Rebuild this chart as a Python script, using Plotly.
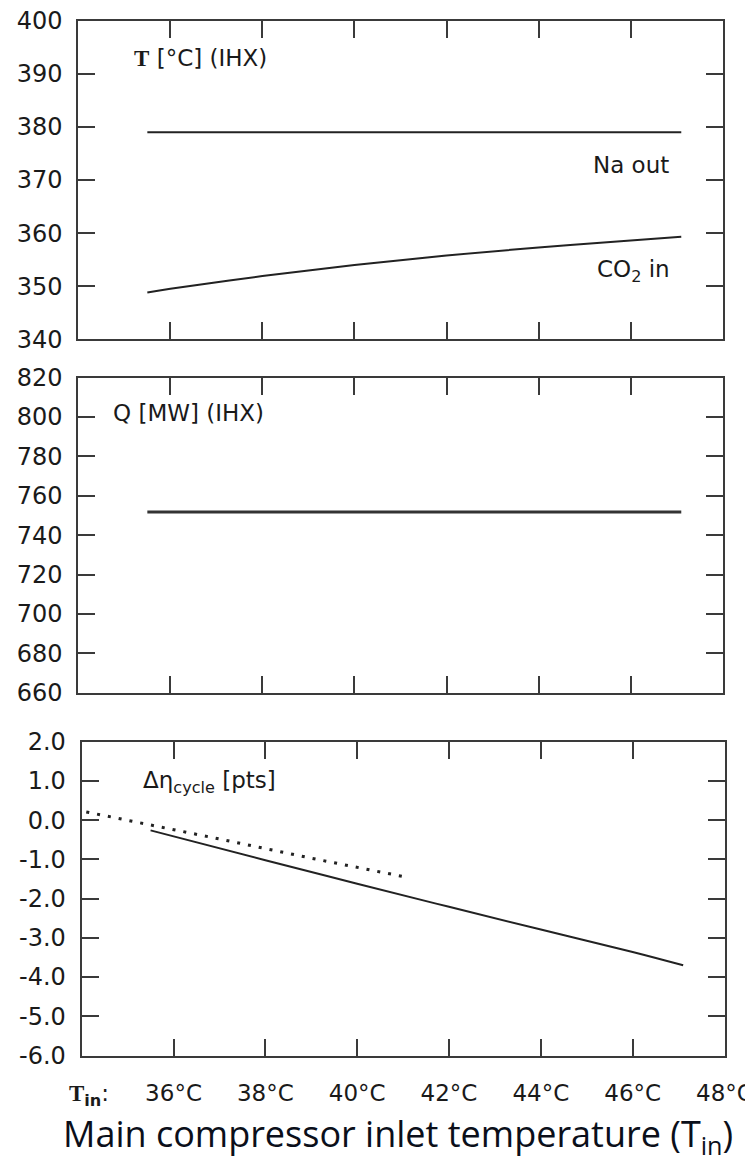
import plotly.graph_objects as go

# ---------------- data ----------------
t_na = [35.5, 47.1]
na_out = [379.0, 379.0]

t_co2 = [35.5, 36.0, 38.0, 40.0, 42.0, 44.0, 46.0, 47.1]
co2_in = [348.8, 349.5, 351.9, 354.0, 355.8, 357.3, 358.6, 359.3]

t_q = [35.5, 47.1]
q_ihx = [751.8, 751.8]

t_eta = [35.5, 38.0, 40.0, 42.0, 44.0, 46.0, 47.1]
d_eta = [-0.26, -1.02, -1.62, -2.21, -2.79, -3.36, -3.70]

t_eta_dot = [34.1, 35.5, 37.0, 39.0, 41.1]
d_eta_dot = [0.21, -0.12, -0.48, -0.97, -1.46]

x_ticks = [36, 38, 40, 42, 44, 46, 48]
x_ticktext = ["36°C", "38°C", "40°C", "42°C", "44°C", "46°C", "48°C"]

y1_ticks = [340, 350, 360, 370, 380, 390, 400]
y1_text = ["340", "350", "360", "370", "380", "390", "400"]
y2_ticks = [660, 680, 700, 720, 740, 760, 780, 800, 820]
y2_text = ["660", "680", "700", "720", "740", "760", "780", "800", "820"]
y3_ticks = [-6, -5, -4, -3, -2, -1, 0, 1, 2]
y3_text = ["-6.0", "-5.0", "-4.0", "-3.0", "-2.0", "-1.0", "0.0", "1.0", "2.0"]

# ---------------- layout helpers ----------------
OFF = 8  # default page body margin
W, H = 753 - OFF, 1163 - OFF


def px(x):
    return (x - OFF) / W


def py(y):
    return 1 - (y - OFF) / H


LINE = "#222222"
AX = "#3a3a3a"
TICKFONT = dict(family="DejaVu Sans, sans-serif", size=24, color="#1a1a1a")

fig = go.Figure()

fig.add_trace(go.Scatter(x=t_na, y=na_out, mode="lines", line=dict(color=LINE, width=2),
                         xaxis="x", yaxis="y", showlegend=False))
fig.add_trace(go.Scatter(x=t_co2, y=co2_in, mode="lines", line=dict(color=LINE, width=2, shape="spline"),
                         xaxis="x", yaxis="y", showlegend=False))
fig.add_trace(go.Scatter(x=t_q, y=q_ihx, mode="lines", line=dict(color="#333333", width=3),
                         xaxis="x2", yaxis="y2", showlegend=False))
fig.add_trace(go.Scatter(x=t_eta, y=d_eta, mode="lines", line=dict(color=LINE, width=2, shape="spline"),
                         xaxis="x3", yaxis="y3", showlegend=False))
fig.add_trace(go.Scatter(x=t_eta_dot, y=d_eta_dot, mode="lines",
                         line=dict(color=LINE, width=3, dash="3px,8px"),
                         xaxis="x3", yaxis="y3", showlegend=False))


def xax(domain, anchor, labels):
    return dict(domain=domain, anchor=anchor, range=[34, 48], tickmode="array",
                tickvals=x_ticks, ticktext=x_ticktext, showticklabels=labels,
                ticks="inside", ticklen=17, tickwidth=2, tickcolor=AX,
                showline=True, linewidth=2, linecolor=AX, mirror="allticks",
                showgrid=False, zeroline=False,
                tickfont=dict(family="DejaVu Sans, sans-serif", size=23, color="#1a1a1a"),
                ticklabelstandoff=16, ticklabeloverflow="allow", automargin=False)


def yax(domain, anchor, rng, vals, text):
    return dict(domain=domain, anchor=anchor, range=rng, tickmode="array",
                tickvals=vals, ticktext=text,
                ticks="inside", ticklen=17, tickwidth=2, tickcolor=AX,
                showline=True, linewidth=2, linecolor=AX, mirror="allticks",
                showgrid=False, zeroline=False, tickfont=TICKFONT,
                ticklabelstandoff=9, ticklabeloverflow="allow", automargin=False)


dom12 = [px(78.3), px(722.7)]
dom3 = [px(81.7), px(724.5)]

fig.update_layout(
    width=W, height=H,
    margin=dict(l=0, r=0, t=0, b=0),
    paper_bgcolor="white", plot_bgcolor="white",
    xaxis=xax(dom12, "y", False),
    yaxis=yax([py(339.3), py(20.7)], "x", [340, 400], y1_ticks, y1_text),
    xaxis2=xax(dom12, "y2", False),
    yaxis2=yax([py(692.7), py(377.7)], "x2", [660, 820], y2_ticks, y2_text),
    xaxis3=xax(dom3, "y3", True),
    yaxis3=yax([py(1055.5), py(741.7)], "x3", [-6, 2], y3_ticks, y3_text),
)

LBL = dict(family="DejaVu Sans, sans-serif", size=23, color="#1a1a1a")
SERIF_T = "<span style='font-family:Liberation Serif, Times New Roman, serif'><b>T</b></span>"

annots = [
    dict(text=SERIF_T + " [°C] (IHX)", x=px(132), y=py(58), xanchor="left", yanchor="middle"),
    dict(text="Na out", x=px(671), y=py(165), xanchor="right", yanchor="middle"),
    dict(text="CO<sub>2</sub> in", x=px(672), y=py(271), xanchor="right", yanchor="middle"),
    dict(text="Q [MW] (IHX)", x=px(111), y=py(413), xanchor="left", yanchor="middle"),
    dict(text="Δη<sub>cycle</sub> [pts]", x=px(141), y=py(782), xanchor="left", yanchor="middle"),
    dict(text=SERIF_T + "<sub><b>in</b></sub>:", x=px(67), y=py(1095), xanchor="left", yanchor="middle"),
]
for a in annots:
    fig.add_annotation(xref="paper", yref="paper", showarrow=False, font=LBL, **a)

fig.add_annotation(xref="paper", yref="paper", showarrow=False,
                   text="Main compressor inlet temperature (T<sub>in</sub>)",
                   x=px(398), y=py(1135), xanchor="center", yanchor="middle",
                   font=dict(family="Open Sans, sans-serif", size=36, color="#0b0f1a"))

fig.write_html("out.html")
